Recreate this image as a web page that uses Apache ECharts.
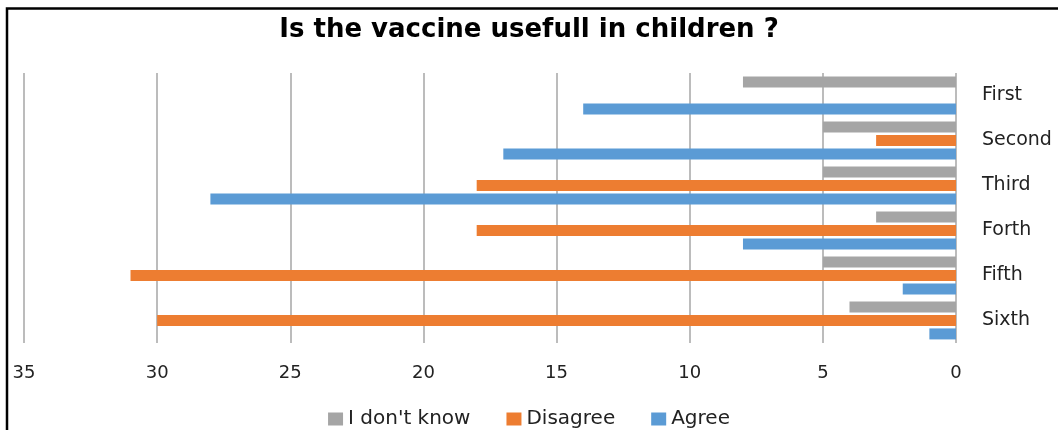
<!DOCTYPE html>
<html>
<head>
<meta charset="utf-8">
<script src="https://cdn.jsdelivr.net/npm/echarts@6/dist/echarts.min.js"></script>
<style>
html,body{margin:0;padding:0;background:#fff;}
#c{width:1058px;height:430px;}
</style>
</head>
<body>
<div id="c"></div>
<script>
const categories = ['First', 'Second', 'Third', 'Forth', 'Fifth', 'Sixth'];
const seriesNames = ["I don't know", 'Disagree', 'Agree'];
const dontKnow = [8, 5, 5, 3, 5, 4];
const disagree = [0, 3, 18, 18, 31, 30];
const agree = [14, 17, 28, 8, 2, 1];
const xTicks = [0, 5, 10, 15, 20, 25, 30, 35];

const colors = ['#a5a5a5', '#ed7d31', '#5b9bd5'];
const FONT = 'DejaVu Sans';

const chart = echarts.init(document.getElementById('c'), null, {renderer: 'canvas'});
chart.setOption({
  animation: false,
  title: {
    text: 'Is the vaccine usefull in children ?',
    left: 'center',
    top: 12,
    textStyle: {fontFamily: FONT, fontSize: 26, fontWeight: 'bold', color: '#000'}
  },
  legend: {
    bottom: 1,
    left: 'center',
    padding: 0,
    itemWidth: 15,
    itemHeight: 13,
    itemGap: 36,
    icon: 'rect',
    textStyle: {fontFamily: FONT, fontSize: 20, color: '#222'},
    data: seriesNames
  },
  graphic: [{
    type: 'rect',
    shape: {x: 7, y: 8.5, width: 1200, height: 600},
    style: {fill: 'none', stroke: '#000', lineWidth: 2.5},
    silent: true
  }],
  grid: {left: 24, right: 102, top: 73, bottom: 87, containLabel: false},
  xAxis: {
    type: 'value',
    inverse: true,
    min: xTicks[0],
    max: xTicks[xTicks.length - 1],
    interval: 5,
    axisLine: {show: false},
    axisTick: {show: false},
    axisLabel: {fontFamily: FONT, fontSize: 18, color: '#222', margin: 21},
    splitLine: {show: true, lineStyle: {color: '#a6a6a6', width: 1.5}}
  },
  yAxis: {
    type: 'category',
    inverse: true,
    position: 'right',
    data: categories,
    axisLine: {show: false},
    axisTick: {show: false},
    axisLabel: {fontFamily: FONT, fontSize: 19, color: '#222', margin: 26, align: 'left'}
  },
  series: [
    {name: seriesNames[0], type: 'bar', data: dontKnow, barWidth: 11, barGap: '22%', itemStyle: {color: colors[0]}},
    {name: seriesNames[1], type: 'bar', data: disagree, barWidth: 11, barGap: '22%', itemStyle: {color: colors[1]}},
    {name: seriesNames[2], type: 'bar', data: agree, barWidth: 11, barGap: '22%', itemStyle: {color: colors[2]}}
  ]
});
</script>
</body>
</html>
